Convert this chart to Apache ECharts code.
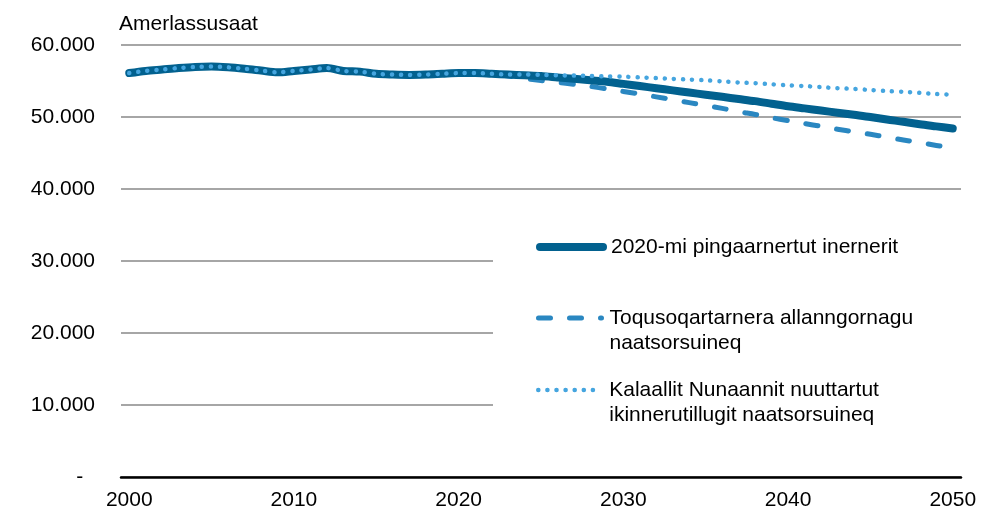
<!DOCTYPE html>
<html>
<head>
<meta charset="utf-8">
<script src="https://cdn.jsdelivr.net/npm/echarts@6/dist/echarts.min.js"></script>
<style>
  html, body { margin: 0; padding: 0; background: #fff; }
  #chart { width: 992px; height: 513px; }
</style>
</head>
<body>
<div id="chart"></div>
<script>
const years = [
  "2000", "2001", "2002", "2003", "2004", "2005", "2006", "2007", "2008", "2009",
  "2010", "2011", "2012", "2013", "2014", "2015", "2016", "2017", "2018", "2019",
  "2020", "2021", "2022", "2023", "2024", "2025", "2026", "2027", "2028", "2029",
  "2030", "2031", "2032", "2033", "2034", "2035", "2036", "2037", "2038", "2039",
  "2040", "2041", "2042", "2043", "2044", "2045", "2046", "2047", "2048", "2049",
  "2050"
];

// 2000-2022, shared by all three lines
const history = [
  56100, 56400, 56600, 56800, 56950, 57000, 56900, 56700, 56450, 56200,
  56400, 56600, 56800, 56400, 56300, 56000, 55900, 55850, 55900, 56000,
  56100, 56100, 56000
];

// 2023-2050
const baseProjection = [
  55900, 55800, 55700, 55500, 55300, 55100, 54900, 54600, 54300, 54000,
  53700, 53400, 53100, 52800, 52500, 52200, 51850, 51500, 51200, 50900,
  50600, 50300, 50000, 49650, 49350, 49000, 48700, 48400
];
const noMigration = [
  55700, 55350, 55050, 54800, 54550, 54250, 53900, 53550, 53200, 52800,
  52400, 52000, 51600, 51200, 50750, 50350, 49900, 49500, 49100, 48700,
  48300, 47950, 47600, 47200, 46800, 46450, 46050, 45650
];
const fertility = [
  55900, 55900, 55850, 55800, 55750, 55700, 55650, 55600, 55500, 55400,
  55300, 55200, 55100, 54950, 54800, 54700, 54550, 54400, 54300, 54150,
  54000, 53900, 53750, 53600, 53500, 53350, 53200, 53100
];

// first line of the two-line labels sits level with the legend line,
// so a blank line goes in front to push the block down
const legendLabels = {
  base: "2020-mi pingaarnertut inernerit",
  migration: " \nToqusoqartarnera allanngornagu\nnaatsorsuineq",
  fertility: " \nKalaallit Nunaannit nuuttartut\nikinnerutillugit naatsorsuineq"
};
const yTicks = [0, 10000, 20000, 30000, 40000, 50000, 60000];

const FONT = "'Liberation Sans', Arial, sans-serif";
const FS = 21;
const colors = { base: "#02618F", migration: "#2A87C1", fertility: "#45A5DF" };
const dashes = { migration: [12, 19], fertility: [0.1, 9] };

function fmtTick(v) {
  if (v === 0) return "-  ";
  return String(v).replace(/\B(?=(\d{3})+(?!\d))/g, ".");
}

function makeLegend(name, top, padding, width, type) {
  return {
    data: [name],
    orient: "vertical",
    left: 493,
    top: top,
    padding: padding,
    backgroundColor: "#fff",
    selectedMode: false,
    itemWidth: 63,
    itemHeight: 14,
    z: 10,
    itemStyle: { opacity: 0 },
    lineStyle: { width: width, type: type, cap: "round", color: colors[name] },
    formatter: (n) => legendLabels[n],
    textStyle: {
      fontFamily: FONT,
      fontSize: FS,
      lineHeight: 25,
      color: "#000",
      padding: [0, 0, 0, 3]
    }
  };
}

const chart = echarts.init(document.getElementById("chart"));
chart.setOption({
  animation: false,
  title: {
    text: "Amerlassusaat",
    left: 114,
    top: 9,
    textStyle: { fontFamily: FONT, fontSize: FS, fontWeight: "normal", color: "#000" }
  },
  legend: [
    makeLegend("base", 212.5, [22, 140, 22, 43], 8, "solid"),
    makeLegend("migration", 280.5, [0, 140, 10, 43], 5, dashes.migration),
    makeLegend("fertility", 352.5, [0, 140, 10, 43], 4.5, dashes.fertility)
  ],
  grid: { left: 121, right: 31, top: 45, bottom: 36, containLabel: false },
  xAxis: {
    type: "category",
    data: years,
    boundaryGap: true,
    axisTick: { show: false },
    axisLine: { lineStyle: { color: "#000", width: 2.5 } },
    axisLabel: {
      interval: 9,
      margin: 13,
      fontFamily: FONT,
      fontSize: FS,
      color: "#000"
    },
    splitLine: { show: false }
  },
  yAxis: {
    type: "value",
    min: yTicks[0],
    max: yTicks[yTicks.length - 1],
    interval: 10000,
    axisLine: { show: false },
    axisTick: { show: false },
    axisLabel: {
      margin: 26,
      fontFamily: FONT,
      fontSize: FS,
      color: "#000",
      formatter: fmtTick
    },
    splitLine: { lineStyle: { color: "#A6A6A6", width: 2 } }
  },
  series: [
    {
      name: "base",
      type: "line",
      z: 3,
      symbol: "none",
      smooth: 0.3,
      data: history.concat(baseProjection),
      lineStyle: { color: colors.base, width: 8, cap: "round", join: "round" },
      itemStyle: { color: colors.base }
    },
    {
      name: "migration",
      type: "line",
      z: 2,
      symbol: "none",
      smooth: 0.3,
      data: history.concat(noMigration),
      lineStyle: { color: colors.migration, width: 5, type: dashes.migration, cap: "round", join: "round" },
      itemStyle: { color: colors.migration }
    },
    {
      name: "fertility",
      type: "line",
      z: 4,
      symbol: "none",
      smooth: 0.3,
      data: history.concat(fertility),
      lineStyle: { color: colors.fertility, width: 4.5, type: dashes.fertility, cap: "round", join: "round" },
      itemStyle: { color: colors.fertility }
    }
  ]
});
</script>
</body>
</html>
